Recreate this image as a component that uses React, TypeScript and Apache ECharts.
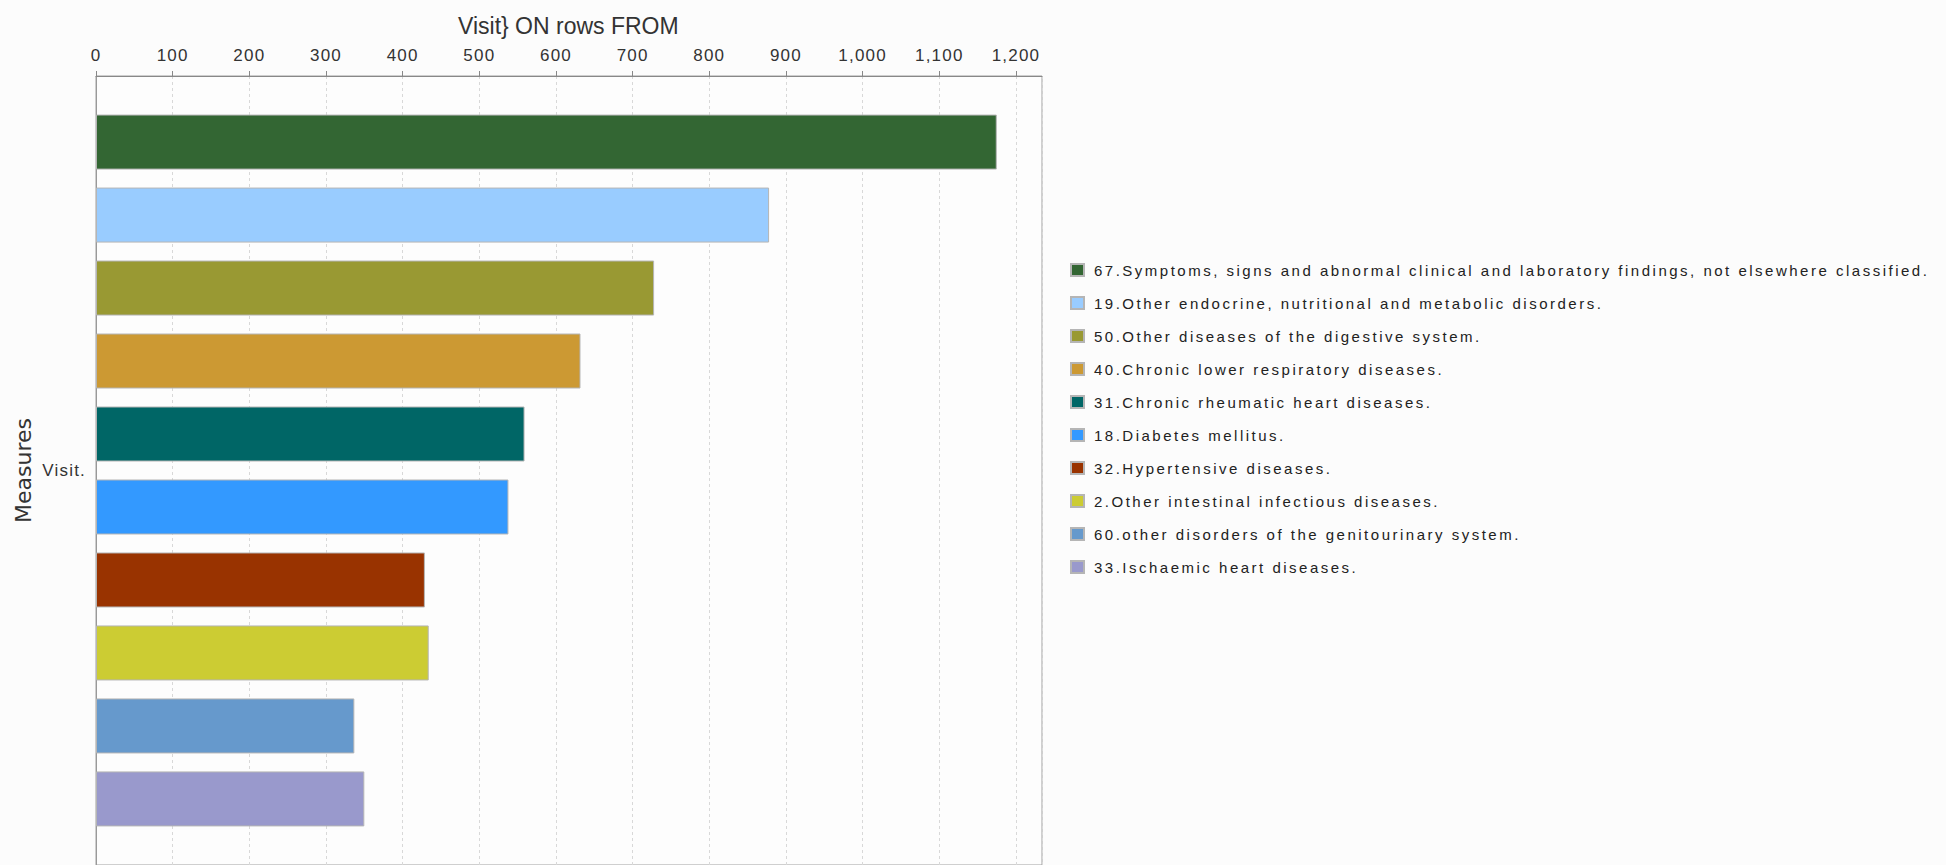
import React, { useEffect, useRef } from "react";
import * as echarts from "echarts";

const categories = ["Visit."];
const seriesNames = [
  "67.Symptoms, signs and abnormal clinical and laboratory findings, not elsewhere classified.",
  "19.Other endocrine, nutritional and metabolic disorders.",
  "50.Other diseases of the digestive system.",
  "40.Chronic lower respiratory diseases.",
  "31.Chronic rheumatic heart diseases.",
  "18.Diabetes mellitus.",
  "32.Hypertensive diseases.",
  "2.Other intestinal infectious diseases.",
  "60.other disorders of the genitourinary system.",
  "33.Ischaemic heart diseases.",
];
const values = [1175, 878, 728, 632, 559, 538, 429, 434, 337, 350];
const colors = [
  "#336633",
  "#99ccff",
  "#999933",
  "#cc9933",
  "#006666",
  "#3399ff",
  "#993300",
  "#cccc33",
  "#6699cc",
  "#9999cc",
];
const axisMin = 0;
const axisMax = 1234;
const tickInterval = 100;
const titleText = "Visit} ON rows FROM";
const yAxisName = "Measures";

const css = `
text[style*="Liberation Sans"] { letter-spacing: 2.5px; }
text[style*="17px"] { letter-spacing: 1.2px; }
`;

export default function App() {
  const ref = useRef<HTMLDivElement>(null);
  useEffect(() => {
    if (!ref.current) return;
    const chart = echarts.init(ref.current, undefined, { renderer: "svg" });
    const series = seriesNames.map((name, i) => ({
      type: "bar",
      name,
      data: [values[i]],
      barWidth: 55,
      barGap: "32.7%",
      itemStyle: { color: colors[i], borderColor: "#b5b5b5", borderWidth: 1 },
    }));
    chart.setOption({
      animation: false,
      backgroundColor: "#fcfcfc",
      title: {
        text: titleText,
        left: 453,
        top: 9,
        textStyle: { fontSize: 23, fontFamily: "Arial", fontWeight: "normal", color: "#333" },
      },
      legend: {
        orient: "vertical",
        left: 1065,
        top: 257,
        itemWidth: 13,
        itemHeight: 12,
        itemGap: 17,
        icon: "rect",
        data: seriesNames,
        textStyle: {
          fontSize: 15,
          fontFamily: "Liberation Sans",
          color: "#222",
          lineHeight: 16,
          padding: [0, 0, 0, 5],
        },
      },
      grid: {
        left: 96,
        right: 904,
        top: 76,
        bottom: -2,
        show: true,
        borderColor: "#a0a0a0",
        borderWidth: 1,
        backgroundColor: "#fdfdfd",
      },
      xAxis: {
        type: "value",
        position: "top",
        min: axisMin,
        max: axisMax,
        interval: tickInterval,
        axisLine: { show: true, lineStyle: { color: "#888" } },
        axisTick: { show: true, length: 5, lineStyle: { color: "#888" } },
        axisLabel: {
          fontSize: 17,
          fontFamily: "Arial",
          color: "#333",
          margin: 12,
          showMaxLabel: false,
          formatter: (v: number) => v.toLocaleString("en-US"),
        },
        splitLine: { show: true, lineStyle: { color: "#d8d8d8", type: [3, 3] } },
      },
      yAxis: {
        type: "category",
        data: categories,
        axisLine: { show: true, lineStyle: { color: "#999" } },
        axisTick: { show: false },
        axisLabel: { fontSize: 17, fontFamily: "Arial", color: "#333", margin: 10 },
        name: yAxisName,
        nameLocation: "middle",
        nameRotate: 90,
        nameGap: 62,
        nameTextStyle: { fontSize: 22, fontFamily: "DejaVu Sans", color: "#333" },
      },
      series,
    });
    return () => chart.dispose();
  }, []);
  return (
    <>
      <style>{css}</style>
      <div
        ref={ref}
        style={{ position: "absolute", left: 0, top: 0, width: 1946, height: 865 }}
      />
    </>
  );
}
